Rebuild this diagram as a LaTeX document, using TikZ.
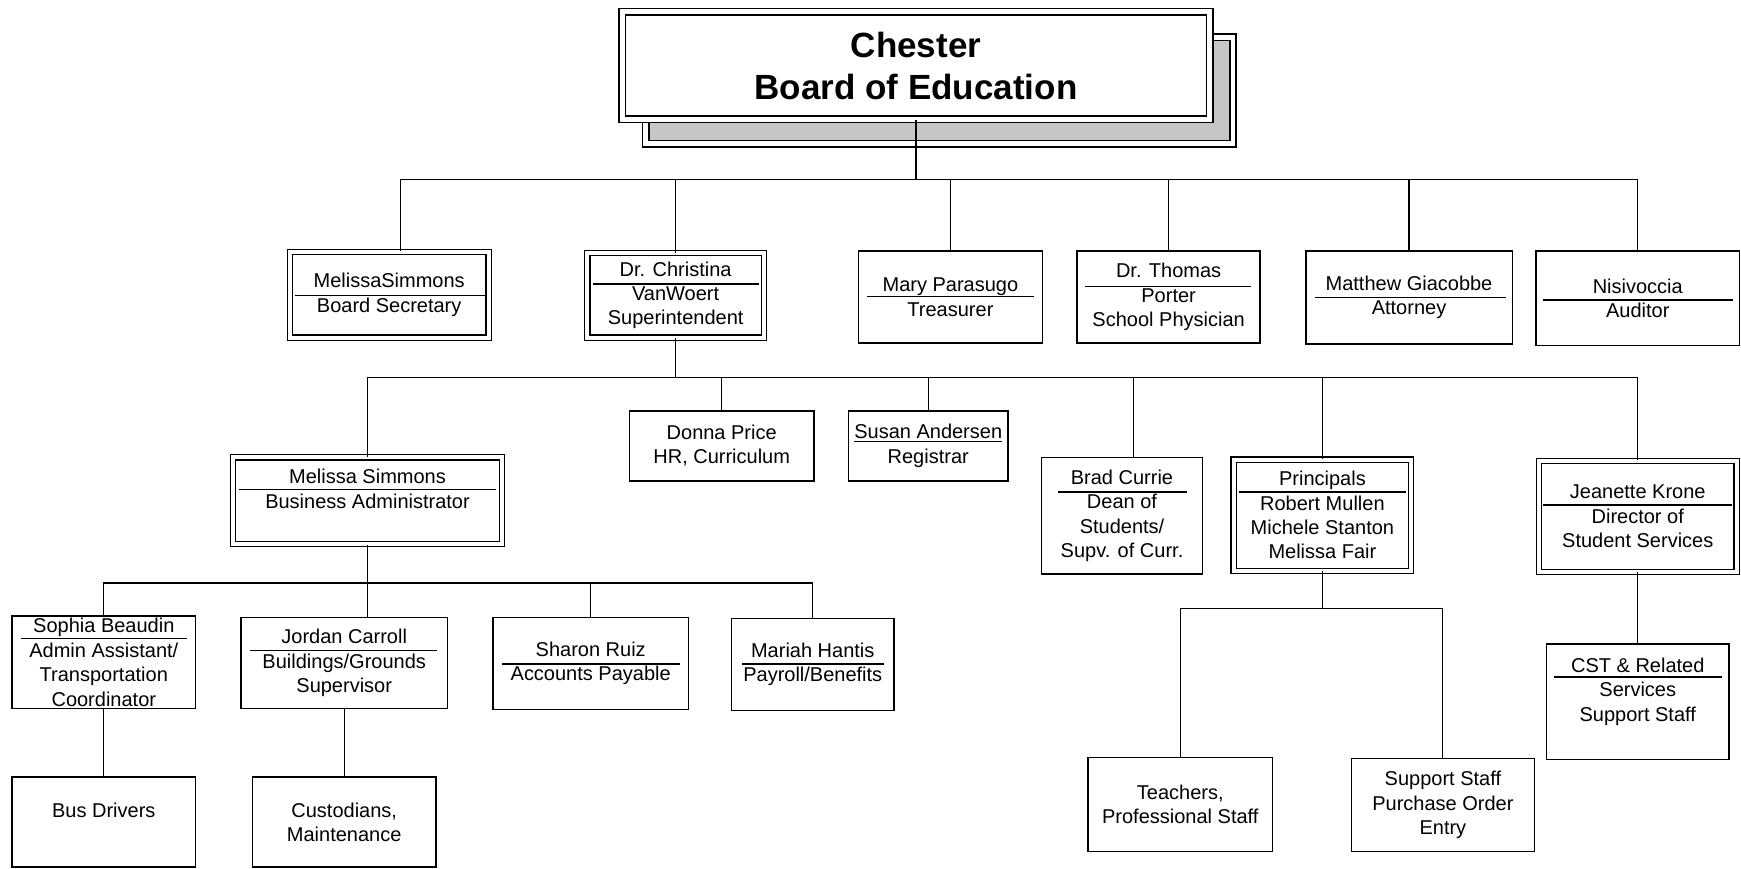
\documentclass[tikz,border=0pt]{standalone}
\usepackage{fontspec}
\setmainfont{Liberation Sans}

\newcommand{\unitpx}{0.5552pt}

\begin{document}
\begin{tikzpicture}[x=0.5552pt, y=-0.5552pt,
	box/.style={draw, line width=0.75pt, inner sep=0pt, align=center, font=\fontsize{10}{12.2}\selectfont},
	dbox/.style={box, line width=0.6pt, double, double distance=2pt},
	link/.style={line width=0.6pt},
	rule/.style={line width=0.8pt}]
	\useasboundingbox (0,0) rectangle (1568,782);

	% Board of Education with its shadow
	\node [draw, line width=0.8pt, double, double distance=2.4pt, fill=gray!45, minimum width=529*\unitpx, minimum height=96*\unitpx] (shadow) at (846,81.5) {};
	\node [draw, line width=0.8pt, double, double distance=2.4pt, fill=white, minimum width=529*\unitpx, minimum height=97*\unitpx, align=center, font=\fontsize{17.5}{21}\selectfont\bfseries] (board) at (825,59) {Chester\\Board of Education};

	% First row
	\node [dbox, minimum width=179*\unitpx, minimum height=77*\unitpx] (sec) at (350.5,265.5) {MelissaSimmons\\Board Secretary};
	\node [dbox, minimum width=159*\unitpx, minimum height=76*\unitpx] (sup) at (608.5,266)   {Dr. Christina\\VanWoert\\Superintendent};
	\node [box,  minimum width=166*\unitpx, minimum height=83*\unitpx] (tre) at (856,267.5)   {Mary Parasugo\\Treasurer};
	\node [box,  minimum width=165*\unitpx, minimum height=83*\unitpx] (phy) at (1052.5,267.5) {Dr. Thomas\\Porter\\School Physician};
	\node [box,  minimum width=186*\unitpx, minimum height=84*\unitpx] (att) at (1269,268)    {Matthew Giacobbe\\Attorney};
	\node [box,  minimum width=183*\unitpx, minimum height=85*\unitpx] (aud) at (1475,268.5)  {Nisivoccia\\Auditor};

	% Second row
	\node [dbox, minimum width=242*\unitpx, minimum height=78*\unitpx]  (ba)   at (331,451)    {Melissa Simmons\\Business Administrator\\\mbox{}};
	\node [box,  minimum width=166*\unitpx, minimum height=63*\unitpx]  (hr)   at (650,401.5)  {Donna Price\\HR, Curriculum};
	\node [box,  minimum width=144*\unitpx, minimum height=63*\unitpx]  (reg)  at (836,401.5)  {\underline{Susan Andersen}\\Registrar};
	\node [box,  minimum width=145*\unitpx, minimum height=105*\unitpx] (dean) at (1010.5,464.5) {Brad Currie\\Dean of\\Students/\\Supv. of Curr.};
	\node [dbox, minimum width=160*\unitpx, minimum height=100*\unitpx] (prin) at (1191,464)   {Principals\\Robert Mullen\\Michele Stanton\\Melissa Fair};
	\node [dbox, minimum width=178*\unitpx, minimum height=100*\unitpx] (sss)  at (1475,465)   {Jeanette Krone\\Director of\\Student Services};

	% Third row
	\node [box, minimum width=165*\unitpx, minimum height=83*\unitpx]  (soph) at (93.5,596.5) {Sophia Beaudin\\Admin Assistant/\\Transportation\\Coordinator};
	\node [box, minimum width=186*\unitpx, minimum height=82*\unitpx]  (jor)  at (310,597)    {Jordan Carroll\\Buildings/Grounds\\Supervisor};
	\node [box, minimum width=176*\unitpx, minimum height=83*\unitpx]  (sha)  at (532,597.5)  {Sharon Ruiz\\Accounts Payable};
	\node [box, minimum width=146*\unitpx, minimum height=83*\unitpx]  (mar)  at (732,598.5)  {Mariah Hantis\\Payroll/Benefits};
	\node [box, minimum width=164*\unitpx, minimum height=104*\unitpx] (cst)  at (1475,632)   {CST \& Related\\Services\\Support Staff\\\mbox{}};

	% Bottom row
	\node [box, minimum width=165*\unitpx, minimum height=81*\unitpx] (bus) at (93.5,740.5) {Bus Drivers\\\mbox{}};
	\node [box, minimum width=165*\unitpx, minimum height=81*\unitpx] (cus) at (310,740.5)  {Custodians,\\Maintenance};
	\node [box, minimum width=166*\unitpx, minimum height=85*\unitpx] (tea) at (1063,724.5) {Teachers,\\Professional Staff};
	\node [box, minimum width=165*\unitpx, minimum height=84*\unitpx] (pos) at (1299.5,725) {Support Staff\\Purchase Order\\Entry};

	% Lines under the names
	\draw [rule] (266,266) -- (437,266);
	\draw [rule] (534,256) -- (684,256);
	\draw [rule] (781,267) -- (931,267);
	\draw [rule] (977,258) -- (1127,258);
	\draw [rule] (1184,268) -- (1356,268);
	\draw [rule] (1390,270) -- (1561,270);
	\draw [rule] (215,441) -- (447,441);
	\draw [rule] (953,443) -- (1069,443);
	\draw [rule] (1116,443) -- (1266,443);
	\draw [rule] (1390,455) -- (1560,455);
	\draw [rule] (19,575) -- (168,575);
	\draw [rule] (225,586) -- (394,586);
	\draw [rule] (452,598) -- (612,598);
	\draw [rule] (668,598) -- (796,598);
	\draw [rule] (1400,609.5) -- (1551,609.5);

	% Bus lines
	\coordinate (b1) at (825,162);
	\coordinate (b2) at (608.5,340);
	\coordinate (b3) at (331,525);
	\coordinate (b4) at (1191,548);

	% Board to first row
	\draw [link] (board.south) -- (b1) -| ([xshift=5.8pt]sec.north);
	\draw [link] (b1) -| (sup.north);
	\draw [link] (b1) -| (tre.north);
	\draw [link] (b1) -| (phy.north);
	\draw [link] (b1) -| (att.north);
	\draw [link] (b1) -| (aud.north);

	% Superintendent to second row
	\draw [link] (sup.south) -- (b2) -| (ba.north);
	\draw [link] (b2) -| (hr.north);
	\draw [link] (b2) -| (reg.north);
	\draw [link] (b2) -| ([xshift=5.8pt]dean.north);
	\draw [link] (b2) -| (prin.north);
	\draw [link] (b2) -| (sss.north);

	% Business Administrator to third row
	\draw [link] (ba.south) -- (b3) -| (soph.north);
	\draw [link] (b3) -- (b3 |- jor.north);
	\draw [link] (b3) -| (sha.north);
	\draw [link] (b3) -| (mar.north);

	% Down to the last boxes
	\draw [link] (soph.south) -- (bus.north);
	\draw [link] (jor.south) -- (cus.north);
	\draw [link] (prin.south) -- (b4) -| (tea.north);
	\draw [link] (b4) -| (pos.north);
	\draw [link] (sss.south) -- (cst.north);
\end{tikzpicture}
\end{document}
